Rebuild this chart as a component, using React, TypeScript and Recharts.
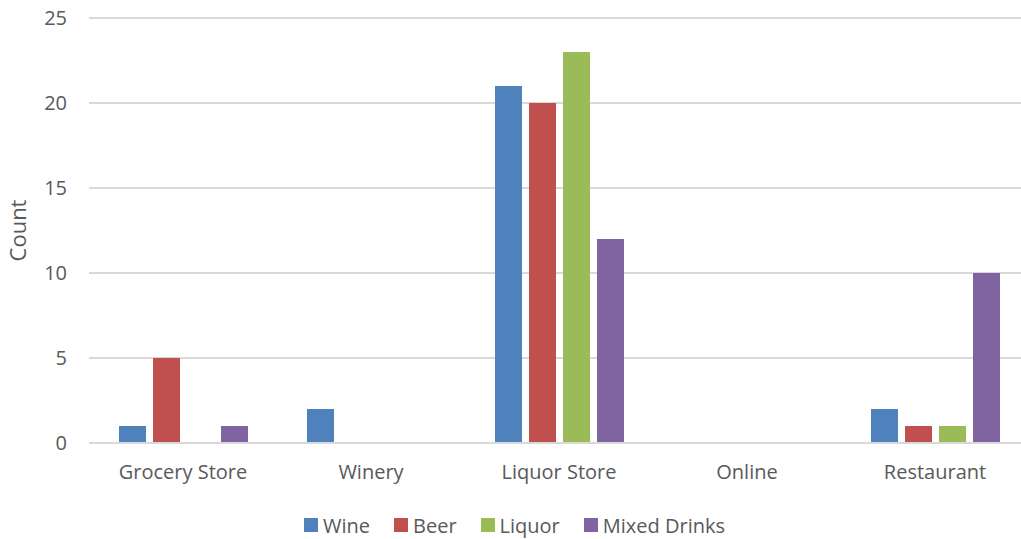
import React from "react";
import { BarChart, Bar, XAxis, YAxis, CartesianGrid, Legend } from "recharts";

const categories = ["Grocery Store", "Winery", "Liquor Store", "Online", "Restaurant"];
const wine = [1, 2, 21, 0, 2];
const beer = [5, 0, 20, 0, 1];
const liquor = [0, 0, 23, 0, 1];
const mixedDrinks = [1, 0, 12, 0, 10];
const yTicks = [0, 5, 10, 15, 20, 25];
const seriesNames = ["Wine", "Beer", "Liquor", "Mixed Drinks"];
const seriesColors = ["#4F81BD", "#C0504D", "#9BBB59", "#8064A2"];
const seriesValues = [wine, beer, liquor, mixedDrinks];

const data = categories.map((c, i) => {
  const row: Record<string, string | number> = { name: c };
  seriesNames.forEach((s, k) => {
    row[s] = seriesValues[k][i];
  });
  return row;
});

const FONT = "'Open Sans', sans-serif";
const TEXT = "#595959";

const renderLegend = (props: any) => {
  const payload = [...(props.payload || [])].sort(
    (a: any, b: any) => seriesNames.indexOf(a.value) - seriesNames.indexOf(b.value)
  );
  return (
    <div
      style={{
        display: "flex",
        justifyContent: "center",
        alignItems: "center",
        height: 28,
        fontFamily: FONT,
        fontSize: 20,
        color: TEXT,
      }}
    >
      {payload.map((p: any, i: number) => (
        <div key={p.value} style={{ display: "flex", alignItems: "center", marginLeft: i === 0 ? 0 : 24 }}>
          <div style={{ width: 14, height: 14, background: p.color, marginRight: 5 }} />
          <span>{p.value}</span>
        </div>
      ))}
    </div>
  );
};

export default function App() {
  return (
    <div style={{ position: "fixed", left: 0, top: 0, width: 1021, height: 539, overflow: "hidden", background: "#fff" }}>
      <BarChart
        width={1038}
        height={539}
        data={data}
        margin={{ top: 18, right: 9, bottom: 0, left: 0 }}
        barSize={27}
        barGap={7}
      >
        <CartesianGrid vertical={false} stroke="#d9d9d9" strokeWidth={2} />
        <XAxis
          dataKey="name"
          axisLine={{ stroke: "#d9d9d9", strokeWidth: 2 }}
          tickLine={false}
          height={68}
          tickMargin={16}
          tick={{ fill: TEXT, fontSize: 20, fontFamily: FONT }}
        />
        <YAxis
          width={89}
          domain={[0, 25]}
          ticks={yTicks}
          axisLine={false}
          tickLine={false}
          tickMargin={16}
          tick={{ fill: TEXT, fontSize: 20, fontFamily: FONT }}
          label={{
            value: "Count",
            angle: -90,
            position: "insideLeft",
            offset: 18,
            style: { fill: TEXT, fontSize: 22, fontFamily: FONT, textAnchor: "middle" },
          }}
        />
        <Legend verticalAlign="bottom" height={28} content={renderLegend} />
        {seriesNames.map((s, k) => (
          <Bar key={s} dataKey={s} fill={seriesColors[k]} isAnimationActive={false} />
        ))}
      </BarChart>
    </div>
  );
}
